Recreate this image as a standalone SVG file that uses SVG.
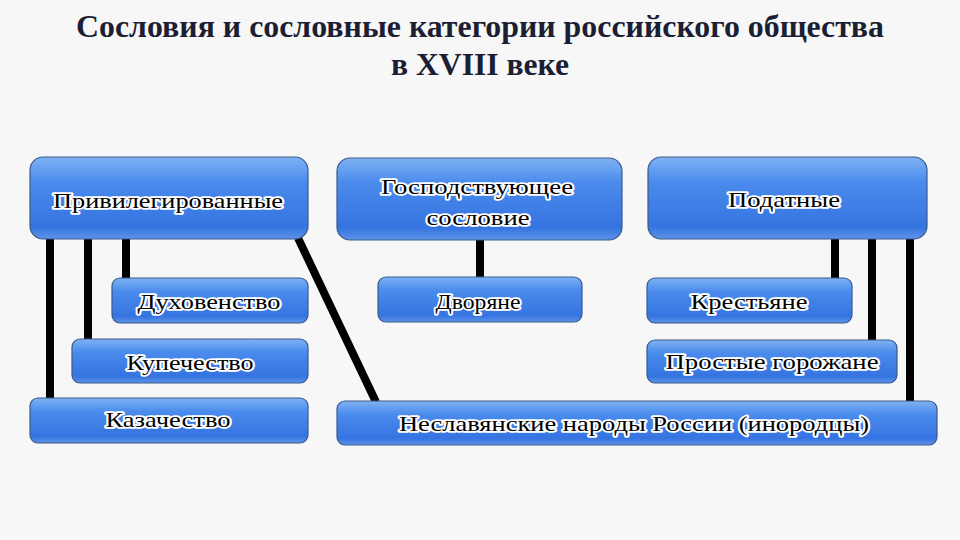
<svg xmlns="http://www.w3.org/2000/svg" width="960" height="540" viewBox="0 0 960 540">
<defs>
<linearGradient id="g" x1="0" y1="0" x2="0" y2="1">
<stop offset="0" stop-color="#7fb2f3"/>
<stop offset="0.3" stop-color="#4a8bec"/>
<stop offset="0.85" stop-color="#3574e0"/>
<stop offset="1" stop-color="#5d93e8"/>
</linearGradient>
<style>
.box{fill:url(#g);stroke:#3a5a8c;stroke-width:1.2}
.t{font-family:"Liberation Serif","Times New Roman",serif;font-size:21px;fill:#000;text-anchor:middle;stroke:#ffffff;stroke-width:3.5px;stroke-linejoin:round;paint-order:stroke}
.title{font-family:"Liberation Serif","Times New Roman",serif;font-weight:bold;font-size:31px;fill:#1c1f33;text-anchor:middle}
.c{stroke:#000;stroke-width:8;fill:none}
</style>
</defs>
<rect width="960" height="540" fill="#f7f7f7"/>
<g id="title">
<text class="title" x="480" y="37" textLength="808" lengthAdjust="spacingAndGlyphs">Сословия и сословные категории российского общества</text>
<text class="title" x="480" y="75" textLength="178" lengthAdjust="spacingAndGlyphs">в XVIII веке</text>
</g>
<g id="connectors">
<line class="c" x1="50" y1="239" x2="50" y2="399"/>
<line class="c" x1="88" y1="239" x2="88" y2="340"/>
<line class="c" x1="126" y1="239" x2="126" y2="279"/>
<line class="c" x1="298" y1="238" x2="376" y2="402"/>
<line class="c" x1="480" y1="240" x2="480" y2="278"/>
<line class="c" x1="835" y1="239" x2="835" y2="279"/>
<line class="c" x1="872" y1="239" x2="872" y2="341"/>
<line class="c" x1="910" y1="239" x2="910" y2="402"/>
</g>
<g id="privileged">
<rect class="box" x="30" y="157" width="278" height="82" rx="13"/>
<text class="t" x="168" y="208" textLength="230" lengthAdjust="spacingAndGlyphs">Привилегированные</text>
</g>
<g id="dominant">
<rect class="box" x="337" y="158" width="285" height="82" rx="13"/>
<text class="t" x="477" y="194" textLength="192" lengthAdjust="spacingAndGlyphs">Господствующее</text>
<text class="t" x="478" y="225" textLength="103" lengthAdjust="spacingAndGlyphs">сословие</text>
</g>
<g id="taxable">
<rect class="box" x="648" y="157" width="279" height="82" rx="13"/>
<text class="t" x="784" y="207" textLength="112" lengthAdjust="spacingAndGlyphs">Податные</text>
</g>
<g id="clergy">
<rect class="box" x="112" y="278" width="196" height="45" rx="8"/>
<text class="t" x="209" y="309" textLength="143" lengthAdjust="spacingAndGlyphs">Духовенство</text>
</g>
<g id="merchants">
<rect class="box" x="72" y="339" width="236" height="44" rx="8"/>
<text class="t" x="190" y="370" textLength="127" lengthAdjust="spacingAndGlyphs">Купечество</text>
</g>
<g id="cossacks">
<rect class="box" x="30" y="398" width="278" height="45" rx="8"/>
<text class="t" x="168" y="427" textLength="125" lengthAdjust="spacingAndGlyphs">Казачество</text>
</g>
<g id="nobles">
<rect class="box" x="378" y="277" width="204" height="45" rx="8"/>
<text class="t" x="478" y="309" textLength="85" lengthAdjust="spacingAndGlyphs">Дворяне</text>
</g>
<g id="peasants">
<rect class="box" x="647" y="278" width="205" height="45" rx="8"/>
<text class="t" x="749" y="309" textLength="117" lengthAdjust="spacingAndGlyphs">Крестьяне</text>
</g>
<g id="townsfolk">
<rect class="box" x="647" y="340" width="250" height="43" rx="8"/>
<text class="t" x="772" y="369" textLength="213" lengthAdjust="spacingAndGlyphs">Простые горожане</text>
</g>
<g id="nonslavic">
<rect class="box" x="337" y="401" width="600" height="44" rx="8"/>
<text class="t" x="634" y="431" textLength="470" lengthAdjust="spacingAndGlyphs">Неславянские народы России (инородцы)</text>
</g>
</svg>
